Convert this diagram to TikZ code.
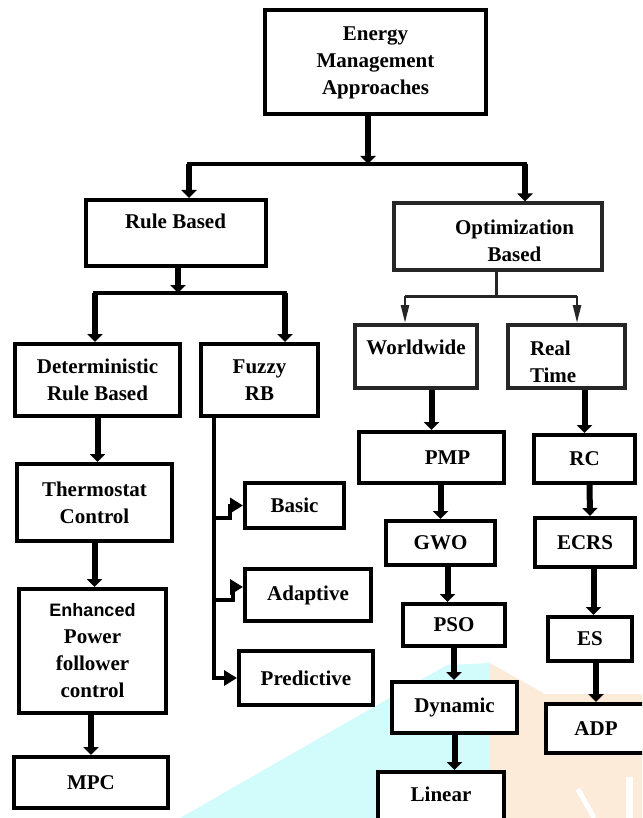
\documentclass[tikz,border=0pt]{standalone}
\usepackage{fontspec}
\setmainfont{Liberation Serif}
\setsansfont{Liberation Sans}
\usepackage{xcolor}
\usepackage{tikz}
\usetikzlibrary{arrows.meta}
\usetikzlibrary{positioning}
\definecolor{waterCyan}{HTML}{D2FBFC}
\definecolor{waterPeach}{HTML}{FDEBD9}
\definecolor{darkBorder}{HTML}{262626}
\tikzset{ema-box/.style={draw, line width=4pt, fill=white, inner sep=0, align=center, font=\bfseries\fontsize{21}{27}\selectfont}}
\tikzset{ema-gray-box/.style={ema-box, draw=darkBorder, line width=4pt}}
\tikzset{link-line/.style={line width=4.5pt, line cap=rect}}
\tikzset{thin-line/.style={line width=3pt, color=darkBorder}}
\tikzset{thick-arrow/.style={-{Triangle[length=8pt, width=15pt]}, line width=6pt}}
\tikzset{thin-arrow/.style={-{Triangle[length=18pt, width=8pt]}, line width=2.5pt, color=darkBorder}}
\tikzset{step-arrow/.style={-{Triangle[length=13pt, width=15pt]}, line width=4pt}}

\begin{document}
\begin{tikzpicture}[x=1pt, y=-1pt]
    \useasboundingbox (0,0) rectangle (642,818);
    \clip (0,0) rectangle (642,818);

    % watermark behind the chart
    \fill[waterCyan] (180,818) -- (447,665) -- (490,663) -- (490,818) -- cycle;
    \fill[waterPeach] (490,663) -- (545,694) -- (642,694) -- (642,818) -- (490,818) -- cycle;
    \draw[white, line width=7pt] (629,777) -- (629,818);
    \draw[white, line width=5pt] (578,789) -- (594,818);

    \node[ema-box, minimum width=221pt, minimum height=104pt] (approaches) at (375.5,62.5) {Energy\\Management\\Approaches};

    \node[ema-box, minimum width=180pt, minimum height=66pt, text height=15pt, text depth=23pt] (rule) at (175.5,233) {Rule Based};
    \node[ema-gray-box, minimum width=208pt, minimum height=66pt, text height=50pt, text depth=0pt] (optim) at (497.5,236.5) {\hspace*{34pt}Optimization\\\hspace*{34pt}Based};

    % rule based side
    \node[ema-box, minimum width=165pt, minimum height=72pt] (determ) at (97.5,380) {Deterministic\\Rule Based};
    \node[ema-box, minimum width=117pt, minimum height=72pt] (fuzzy) at (259.5,380) {Fuzzy\\RB};
    \node[ema-box, minimum width=155pt, minimum height=77pt] (thermo) at (94.5,502.5) {Thermostat\\Control};
    \node[ema-box, minimum width=147pt, minimum height=124pt] (enhanced) at (92.5,651) {{\sffamily\fontsize{18}{27}\selectfont Enhanced}\\Power\\follower\\control};
    \node[ema-box, minimum width=154pt, minimum height=51pt] (mpc) at (91,782.5) {MPC};
    \node[ema-box, minimum width=99pt, minimum height=45pt] (basic) at (294.5,505.5) {Basic};
    \node[ema-box, minimum width=126pt, minimum height=52pt] (adaptive) at (308,595) {Adaptive};
    \node[ema-box, minimum width=134pt, minimum height=54pt] (predictive) at (306,678) {Predictive};

    % optimization side
    \node[ema-gray-box, minimum width=122pt, minimum height=63pt, text height=15pt, text depth=20pt] (worldwide) at (416,356.5) {Worldwide};
    \node[ema-gray-box, minimum width=117pt, minimum height=63pt, text width=73pt, align=left, text height=23pt, text depth=26pt] (realtime) at (566.5,356.5) {Real\\Time};
    \node[ema-box, minimum width=145pt, minimum height=51pt] (pmp) at (431.5,457.5) {\hspace*{32pt}PMP};
    \node[ema-box, minimum width=101pt, minimum height=48pt] (rc) at (584.5,459) {RC};
    \node[ema-box, minimum width=109pt, minimum height=44pt] (gwo) at (440.5,543) {GWO};
    \node[ema-box, minimum width=100pt, minimum height=49pt] (ecrs) at (585,542.5) {ECRS};
    \node[ema-box, minimum width=102pt, minimum height=42pt] (pso) at (454,625) {PSO};
    \node[ema-box, minimum width=84pt, minimum height=44pt] (es) at (590,639) {ES};
    \node[ema-box, minimum width=125pt, minimum height=51pt] (dynamic) at (454.5,707.5) {Dynamic};
    \node[ema-box, minimum width=100pt, minimum height=49pt] (adp) at (596,728.5) {ADP};
    \node[ema-box, minimum width=126pt, minimum height=60pt, text height=15pt, text depth=17pt] (linear) at (441,802) {Linear};

    \coordinate (split-top) at (368,164);
    \coordinate (split-top-l) at (189,164);
    \coordinate (split-top-r) at (525,164);
    \coordinate (split-rule) at (178,293);
    \coordinate (split-rule-l) at (95,293);
    \coordinate (split-rule-r) at (285,293);
    \coordinate (split-opt) at (496,296);
    \coordinate (split-opt-l) at (405,296);
    \coordinate (split-opt-r) at (577,296);
    \coordinate (fuzzy-trunk) at (214,0);
    \coordinate (step-basic) at (230,518);
    \coordinate (step-adaptive) at (233,600);
    \coordinate (step-adaptive-top) at (233,587);

    \draw[thick-arrow] (approaches.south -| split-top) -- (split-top);
    \draw[link-line] (split-top-l) -- (split-top-r);
    \draw[thick-arrow] (split-top-l) -- (split-top-l |- rule.north);
    \draw[thick-arrow] (split-top-r) -- (split-top-r |- optim.north);

    \draw[thick-arrow] (rule.south -| split-rule) -- (split-rule);
    \draw[link-line] (split-rule-l) -- (split-rule-r);
    \draw[thick-arrow] (split-rule-l) -- (split-rule-l |- determ.north);
    \draw[thick-arrow] (split-rule-r) -- (split-rule-r |- fuzzy.north);

    \draw[thin-line] (optim.south -| split-opt) -- (split-opt);
    \draw[thin-line] (split-opt-l) -- (split-opt-r);
    \draw[thin-arrow] (split-opt-l) -- (split-opt-l |- worldwide.north);
    \draw[thin-arrow] (split-opt-r) -- (split-opt-r |- realtime.north);

    \draw[thick-arrow] (determ.south) -- (determ.south |- thermo.north);
    \draw[thick-arrow] (thermo.south) -- (thermo.south |- enhanced.north);
    \draw[thick-arrow] (enhanced.south -| mpc.north) -- (mpc.north);

    \draw[step-arrow] (fuzzy.south -| fuzzy-trunk) -- (fuzzy-trunk |- predictive.west) -- (predictive.west);
    \draw[step-arrow] (fuzzy-trunk |- step-basic) -- (step-basic) -- (step-basic |- basic.west) -- (basic.west);
    \draw[step-arrow] (fuzzy-trunk |- step-adaptive) -- (step-adaptive) -- (step-adaptive-top) -- (step-adaptive-top -| adaptive.west);

    \draw[thick-arrow] (worldwide.south -| pmp.north) -- (pmp.north);
    \draw[thick-arrow] (pmp.south -| gwo.north) -- (gwo.north);
    \draw[thick-arrow] ([xshift=7pt]gwo.south) -- ([xshift=-6.5pt]pso.north);
    \draw[thick-arrow] (pso.south) -- (pso.south |- dynamic.north);
    \draw[thick-arrow] (dynamic.south) -- (dynamic.south |- linear.north);

    \draw[thick-arrow] (realtime.south -| rc.north) -- (rc.north);
    \draw[thick-arrow] ([xshift=5pt]rc.south) -- ([xshift=5pt]ecrs.north);
    \draw[thick-arrow] ([xshift=8.5pt]ecrs.south) -- ([xshift=3.5pt]es.north);
    \draw[thick-arrow] (es.south -| adp.north) -- (adp.north);
\end{tikzpicture}
\end{document}
